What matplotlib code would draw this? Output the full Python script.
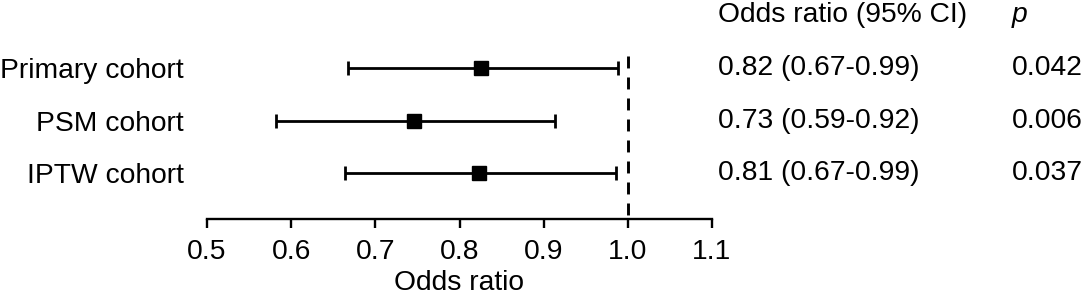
import matplotlib
matplotlib.use("Agg")
import matplotlib.pyplot as plt
import matplotlib.transforms as mtransforms

plt.rcParams['font.family'] = ['Liberation Sans', 'DejaVu Sans']

cohorts = ["Primary cohort", "PSM cohort", "IPTW cohort"]
or_est = [0.826, 0.746, 0.823]
ci_low = [0.667, 0.582, 0.664]
ci_high = [0.988, 0.913, 0.986]
or_text = ["0.82 (0.67-0.99)", "0.73 (0.59-0.92)", "0.81 (0.67-0.99)"]
p_text = ["0.042", "0.006", "0.037"]
xticks = [0.5, 0.6, 0.7, 0.8, 0.9, 1.0, 1.1]

W, H = 1084, 294
FS = 20.3
fig = plt.figure(figsize=(W / 100, H / 100), dpi=100)
ax = fig.add_axes([207 / W, 1 - 219 / H, (712 - 207) / W, (219 - 56) / H])

ypos = [3, 2, 1]
for y, est, lo, hi in zip(ypos, or_est, ci_low, ci_high):
    ax.errorbar(est, y, xerr=[[est - lo], [hi - est]], fmt='s', color='black',
                markersize=10, elinewidth=2.0, capsize=4.7, capthick=2.0)

ax.set_xlim(0.5, 1.1)
ax.set_ylim(0.134, 3.222)
# reference line at OR = 1, dash pattern starting at the top
ax.plot([1.0, 1.0], [3.222, 0.134], color='black', linewidth=2.1,
        linestyle=(0, (4.1, 3.1)), clip_on=False)

ax.set_xticks(xticks)
ax.set_xticklabels([f"{t:.1f}" for t in xticks], fontsize=FS)
ax.set_yticks(ypos)
ax.set_yticklabels(cohorts, fontsize=FS)
ax.tick_params(axis='y', length=0, pad=17)
ax.tick_params(axis='x', length=6.5, width=1.7, pad=8, direction='out')
for s in ['top', 'right', 'left']:
    ax.spines[s].set_visible(False)
ax.spines['bottom'].set_linewidth(1.7)
ax.set_xlabel("Odds ratio", fontsize=FS, labelpad=3.6)

trans = mtransforms.blended_transform_factory(fig.transFigure, ax.transData)
ax.text(718 / W, 4, "Odds ratio (95% CI)", transform=trans, fontsize=FS,
        ha='left', va='center', clip_on=False)
ax.text(1012 / W, 4, "p", transform=trans, fontsize=FS, style='italic',
        ha='left', va='center', clip_on=False)
for y, t1, t2 in zip(ypos, or_text, p_text):
    ax.text(718 / W, y, t1, transform=trans, fontsize=FS, ha='left', va='center', clip_on=False)
    ax.text(1012 / W, y, t2, transform=trans, fontsize=FS, ha='left', va='center', clip_on=False)

fig.savefig("out.png", dpi=100)
